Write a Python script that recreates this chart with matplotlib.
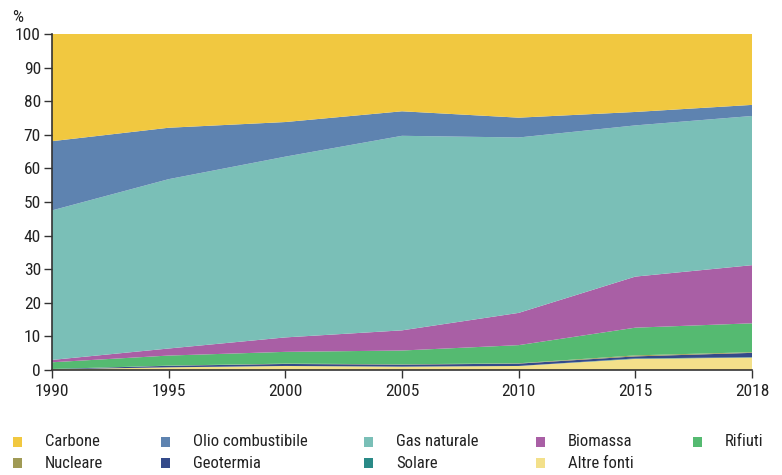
import matplotlib.pyplot as plt
from matplotlib.patches import Rectangle
from matplotlib import font_manager

nomi_font = {f.name for f in font_manager.fontManager.ttflist}
condensati = [n for n in ['Liberation Sans Narrow', 'DejaVu Sans Condensed',
                          'Roboto Condensed', 'Open Sans Condensed',
                          'Noto Sans Condensed'] if n in nomi_font]
plt.rcParams['font.family'] = condensati + ['DejaVu Sans']

# Data -------------------------------------------------------------------
anni = ['1990', '1995', '2000', '2005', '2010', '2015', '2018']

altre_fonti = [0.2, 0.8, 1.2, 1.0, 1.2, 3.3, 3.7]
solare = [0.0, 0.0, 0.0, 0.0, 0.0, 0.15, 0.1]
geotermia = [0.1, 0.45, 0.6, 0.6, 0.7, 0.6, 1.3]
nucleare = [0.0, 0.05, 0.1, 0.1, 0.1, 0.3, 0.2]
rifiuti = [2.0, 3.0, 3.5, 4.1, 5.4, 8.25, 8.6]
biomassa = [0.7, 2.1, 4.3, 6.0, 9.6, 15.2, 17.3]
gas_naturale = [44.5, 50.4, 53.8, 57.9, 52.2, 45.0, 44.4]
olio = [20.6, 15.3, 10.3, 7.3, 5.9, 4.0, 3.3]
carbone = [31.9, 27.9, 26.2, 23.0, 24.9, 23.2, 21.1]

# stacking order, bottom to top
serie = [altre_fonti, solare, geotermia, nucleare, rifiuti,
         biomassa, gas_naturale, olio, carbone]
colori = ['#F3E08A', '#2A8A87', '#344A8A', '#A09A55', '#55BA71',
          '#A95FA5', '#7ABFB7', '#5E83B0', '#F1C840']

# legend order (row by row)
legenda_nomi = ['Carbone', 'Olio combustibile', 'Gas naturale', 'Biomassa',
                'Rifiuti', 'Nucleare', 'Geotermia', 'Solare', 'Altre fonti']
legenda_colori = ['#F1C840', '#5E83B0', '#7ABFB7', '#A95FA5', '#55BA71',
                  '#A09A55', '#344A8A', '#2A8A87', '#F3E08A']

# Figure -----------------------------------------------------------------
W, H = 782, 475
fig = plt.figure(figsize=(W / 100, H / 100), dpi=100)
ax = fig.add_axes([52 / W, 1 - 370 / H, 700 / W, 336 / H])

x = list(range(len(anni)))
ax.stackplot(x, *serie, colors=colori, linewidth=0)

ax.set_xlim(0, len(anni) - 1)
ax.set_ylim(0, 100)
ax.set_xticks(x)
ax.set_xticklabels(anni)
ax.set_yticks(range(0, 101, 10))

for s in ['top', 'right']:
    ax.spines[s].set_visible(False)
for s in ['left', 'bottom']:
    ax.spines[s].set_color('#333333')
    ax.spines[s].set_linewidth(1.2)
    ax.spines[s].set_zorder(5)

fs = 12.5 if condensati else 10.5
ax.tick_params(axis='both', direction='out', length=6, width=1,
               color='#333333', labelsize=fs, labelcolor='#222222')
ax.tick_params(axis='x', pad=4)
ax.tick_params(axis='y', pad=2)

fig.text(12 / W, 1 - 17 / H, '%', fontsize=fs, color='#222222',
         ha='left', va='center')

# Legend -----------------------------------------------------------------
col_x = [13, 161, 364, 536, 693]
row_y = [442, 463]
for i, (nome, col) in enumerate(zip(legenda_nomi, legenda_colori)):
    r, c = divmod(i, 5)
    xs, ys = col_x[c], row_y[r]
    fig.patches.append(Rectangle((xs / W, 1 - (ys + 5) / H), 9 / W, 10 / H,
                                 transform=fig.transFigure,
                                 facecolor=col, edgecolor='none'))
    fig.text((xs + 32) / W, 1 - ys / H, nome, fontsize=12,
             color='#222222', ha='left', va='center')

fig.savefig('out.png', dpi=100)
